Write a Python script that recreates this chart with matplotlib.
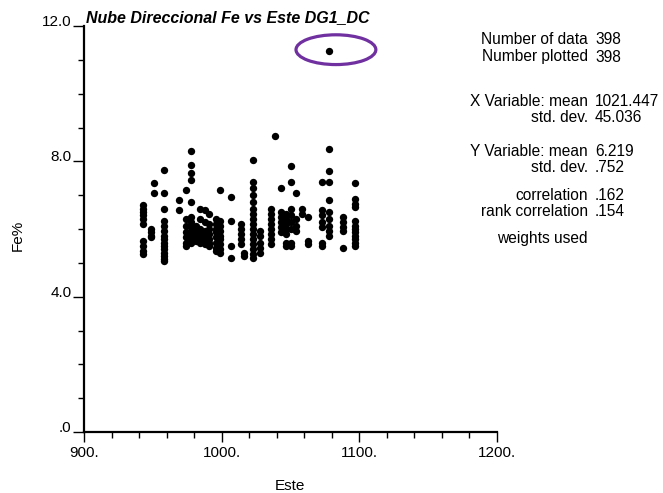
import numpy as np
import matplotlib
matplotlib.use('Agg')
import matplotlib.pyplot as plt
from matplotlib.patches import Ellipse

plt.rcParams['font.family'] = ['Liberation Sans', 'DejaVu Sans']

# Este columns and the Fe% values read at each one
este_cols = [943, 949, 951, 958, 969, 974, 978, 981, 984, 988, 991, 996, 999,
             1007, 1014, 1016, 1023, 1028, 1036, 1039, 1043, 1047, 1050, 1054,
             1058, 1063, 1073, 1078, 1088, 1097]
fe_cols = [
    [6.7, 6.6, 6.5, 6.4, 6.3, 6.15, 5.65, 5.5, 5.35, 5.25],
    [6.0, 5.9, 5.8, 5.75],
    [7.35, 7.05],
    [7.75, 7.05, 6.6, 6.25, 6.1, 5.95, 5.8, 5.7, 5.6, 5.5, 5.4, 5.3, 5.2, 5.1, 5.05],
    [6.85, 6.55],
    [7.15, 6.3, 6.1, 5.9, 5.75, 5.6, 5.5],
    [8.3, 7.9, 7.65, 7.45, 6.8, 6.35, 6.2, 6.05, 5.9, 5.8, 5.7, 5.6],
    [6.1, 5.95, 5.85, 5.75, 5.65],
    [6.6, 6.3, 6.0, 5.85, 5.7, 5.6],
    [6.55, 6.2, 5.95, 5.8, 5.65, 5.55],
    [6.45, 6.15, 6.0, 5.85, 5.7, 5.6, 5.5],
    [6.3, 6.15, 6.0, 5.9, 5.75, 5.6, 5.45, 5.35],
    [7.15, 6.25, 6.1, 5.95, 5.8, 5.7, 5.55, 5.4, 5.3],
    [6.95, 6.25, 5.5, 5.15],
    [6.15, 6.0, 5.85, 5.7, 5.55],
    [5.3, 5.2],
    [8.05, 7.4, 7.2, 7.0, 6.8, 6.6, 6.45, 6.3, 6.15, 6.0, 5.85, 5.7, 5.55, 5.4, 5.25, 5.15],
    [5.95, 5.8, 5.6, 5.45, 5.3],
    [6.6, 6.45, 6.3, 6.15, 6.0, 5.85, 5.7, 5.55],
    [8.75],
    [7.2, 6.5, 6.35, 6.2, 6.05, 5.9],
    [6.45, 6.3, 6.15, 6.0, 5.85, 5.6, 5.5],
    [7.85, 7.4, 6.6, 6.4, 6.2, 6.0, 5.6, 5.5],
    [7.05, 6.3, 6.1, 5.95],
    [6.6, 6.45],
    [6.35, 5.65, 5.55],
    [7.4, 6.55, 6.4, 6.2, 6.05, 5.6, 5.5],
    [8.35, 7.7, 7.4, 6.85, 6.5, 6.3, 6.1, 5.95, 5.8, 11.25],
    [6.35, 6.2, 6.05, 5.95, 5.45],
    [7.35, 6.9, 6.75, 6.65, 6.25, 6.1, 6.0, 5.9, 5.8, 5.7, 5.6, 5.5],
]

x_ticks = [900, 1000, 1100, 1200]
x_labels = ['900.', '1000.', '1100.', '1200.']
y_ticks = [0, 4, 8, 12]
y_labels = ['.0', '4.0', '8.0', '12.0']

stat_labels = ['Number of data', 'Number plotted', 'X Variable: mean', 'std. dev.',
               'Y Variable: mean', 'std. dev.', 'correlation', 'rank correlation',
               'weights used']
stat_values = ['398', '398', '1021.447', '45.036', '6.219', '.752', '.162', '.154', '']

# flatten columns
xs, ys = [], []
for x, col in zip(este_cols, fe_cols):
    xs += [x] * len(col)
    ys += col

W, H = 663, 493
fig = plt.figure(figsize=(W / 100, H / 100), dpi=100)
ax = fig.add_axes([84 / W, 1 - 432 / H, (497 - 84) / W, (432 - 26) / H])

ax.scatter(xs, ys, s=28, color='black', linewidths=0, zorder=3)

# highlight around the outlier
ax.add_patch(Ellipse((1083, 11.3), 58, 0.88, fill=False, edgecolor='#7030A0',
                     linewidth=2.3, clip_on=False, zorder=4))

ax.set_xlim(900, 1200)
ax.set_ylim(0, 12)
for s in ['top', 'right']:
    ax.spines[s].set_visible(False)
for s in ['left', 'bottom']:
    ax.spines[s].set_linewidth(1.6)

ax.set_xticks(x_ticks)
ax.set_xticklabels(x_labels, fontsize=11)
ax.set_xticks(np.arange(900, 1201, 20), minor=True)
ax.set_yticks(y_ticks)
ax.set_yticklabels(y_labels, fontsize=11)
ax.set_yticks(np.arange(0, 13, 1), minor=True)
ax.tick_params(axis='x', which='major', length=7, width=1, pad=3)
ax.tick_params(axis='x', which='minor', length=4, width=1)
ax.tick_params(axis='y', which='major', length=8, width=1, pad=1)
ax.tick_params(axis='y', which='minor', length=4.5, width=1)
for lbl in ax.get_yticklabels():
    lbl.set_va('baseline')

fig.text(86 / W, 1 - 18 / H, 'Nube Direccional Fe vs Este DG1_DC', fontsize=11.5,
         fontweight='bold', fontstyle='italic', ha='left', va='center')
fig.text(18 / W, 1 - 235 / H, 'Fe%', fontsize=11, rotation=90, ha='center', va='center')
fig.text(290 / W, 1 - 486 / H, 'Este', fontsize=11, ha='center', va='center')

stat_y = [40, 57, 102, 118, 151, 167, 196, 212, 239]
for lab, val, y in zip(stat_labels, stat_values, stat_y):
    fig.text(588 / W, 1 - y / H, lab, fontsize=11.2, ha='right', va='center')
    fig.text(595 / W, 1 - y / H, val, fontsize=11.2, ha='left', va='center')

fig.savefig('out.png', dpi=100)
